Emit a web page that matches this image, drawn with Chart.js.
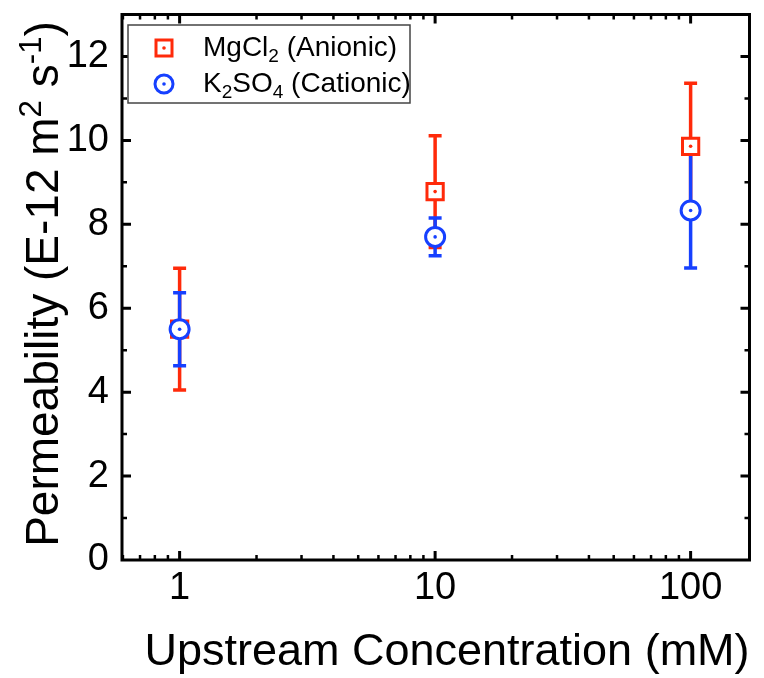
<!DOCTYPE html>
<html>
<head>
<meta charset="utf-8">
<script src="https://cdn.jsdelivr.net/npm/chart.js@4.4.0/dist/chart.umd.min.js"></script>
<style>
    html, body { margin: 0; padding: 0; background: #fff; }
</style>
</head>
<body>
<canvas id="chart" width="764" height="678"></canvas>
<script>
// data
const concentrations = [1, 10, 100];          // mM
const mgcl2Values = [5.5, 8.78, 9.86];
const mgcl2Errors = [1.45, 1.33, 1.5];
const k2so4Values = [5.5, 7.7, 8.33];
const k2so4Errors = [0.87, 0.45, 1.37];
const xTicks = [1, 10, 100];
const yTicks = [0, 2, 4, 6, 8, 10, 12];

const RED = '#ff2a0a';
const BLUE = '#1640ff';
const FONT = "'Liberation Sans', Arial, sans-serif";

function toPoints(values) {
    return concentrations.map((c, i) => ({ x: c, y: values[i] }));
}

// text with sub / superscripts, parts = [{t, sub, sup}]
function richWidth(ctx, parts, size) {
    let w = 0;
    parts.forEach(p => {
        const s = (p.sub || p.sup) ? size * 0.68 : size;
        ctx.font = s + 'px ' + FONT;
        w += ctx.measureText(p.t).width;
    });
    return w;
}

function drawRich(ctx, parts, x, y, size) {
    let cx = x;
    parts.forEach(p => {
        const s = (p.sub || p.sup) ? size * 0.68 : size;
        ctx.font = s + 'px ' + FONT;
        let dy = 0;
        if (p.sub) dy = size * 0.2;
        if (p.sup) dy = -size * 0.38;
        ctx.fillText(p.t, cx, y + dy);
        cx += ctx.measureText(p.t).width;
    });
}

// error bars go under the markers
const errorBarPlugin = {
    id: 'errorBars',
    beforeDatasetsDraw(chart) {
        const ctx = chart.ctx;
        const xs = chart.scales.x, ys = chart.scales.y;
        // red first, then blue on top
        [1, 0].forEach(di => {
            const ds = chart.data.datasets[di];
            ctx.save();
            ctx.strokeStyle = ds.borderColor;
            ctx.lineWidth = 3.5;
            ds.data.forEach((p, i) => {
                const px = xs.getPixelForValue(p.x);
                const top = ys.getPixelForValue(p.y + ds.errors[i]);
                const bot = ys.getPixelForValue(p.y - ds.errors[i]);
                ctx.beginPath();
                ctx.moveTo(px, top);
                ctx.lineTo(px, bot);
                ctx.moveTo(px - 6.5, top);
                ctx.lineTo(px + 6.5, top);
                ctx.moveTo(px - 6.5, bot);
                ctx.lineTo(px + 6.5, bot);
                ctx.stroke();
            });
            ctx.restore();
        });
    },
    afterDatasetDraw(chart, args) {
        // little dot in the middle of each marker
        const ctx = chart.ctx;
        const color = chart.data.datasets[args.index].borderColor;
        ctx.save();
        ctx.fillStyle = color;
        args.meta.data.forEach(pt => {
            ctx.beginPath();
            ctx.arc(pt.x, pt.y, 1.8, 0, Math.PI * 2);
            ctx.fill();
        });
        ctx.restore();
    }
};

// frame, inward ticks on all four sides, titles and legend
const framePlugin = {
    id: 'frame',
    afterDraw(chart) {
        const ctx = chart.ctx;
        const a = chart.chartArea;
        const xs = chart.scales.x, ys = chart.scales.y;
        ctx.save();
        ctx.strokeStyle = '#000';
        ctx.lineCap = 'butt';

        // x ticks (log)
        for (let dec = -1; dec <= 2; dec++) {
            for (let m = 1; m <= 9; m++) {
                const v = m * Math.pow(10, dec);
                if (v <= xs.min || v >= xs.max) continue;
                const px = xs.getPixelForValue(v);
                const len = m === 1 ? 9 : 5;
                ctx.lineWidth = m === 1 ? 3 : 2.5;
                ctx.beginPath();
                ctx.moveTo(px, a.bottom);
                ctx.lineTo(px, a.bottom - len);
                ctx.moveTo(px, a.top);
                ctx.lineTo(px, a.top + len);
                ctx.stroke();
            }
        }
        // y ticks
        for (let v = 1; v < 13; v++) {
            const py = ys.getPixelForValue(v);
            const major = v % 2 === 0;
            const len = major ? 9 : 5;
            ctx.lineWidth = major ? 3 : 2.5;
            ctx.beginPath();
            ctx.moveTo(a.left, py);
            ctx.lineTo(a.left + len, py);
            ctx.moveTo(a.right, py);
            ctx.lineTo(a.right - len, py);
            ctx.stroke();
        }

        ctx.lineWidth = 3;
        ctx.strokeRect(a.left, a.top, a.right - a.left, a.bottom - a.top);

        // axis titles
        ctx.fillStyle = '#000';
        ctx.textBaseline = 'alphabetic';
        ctx.textAlign = 'center';
        ctx.font = '45px ' + FONT;
        ctx.fillText('Upstream Concentration (mM)', 447, 665);

        ctx.textAlign = 'left';
        const yTitle = [
            { t: 'Permeability (E-12 m' }, { t: '2', sup: true },
            { t: ' s' }, { t: '-1', sup: true }, { t: ')' }
        ];
        const tw = richWidth(ctx, yTitle, 46);
        ctx.save();
        ctx.translate(58, 284);
        ctx.rotate(-Math.PI / 2);
        drawRich(ctx, yTitle, -tw / 2, 0, 46);
        ctx.restore();

        // legend
        const lx = 128, ly = 25, lw = 282, lh = 78;
        ctx.fillStyle = '#fff';
        ctx.fillRect(lx, ly, lw, lh);
        ctx.strokeStyle = '#444';
        ctx.lineWidth = 1.5;
        ctx.strokeRect(lx, ly, lw, lh);

        ctx.lineWidth = 3;
        ctx.strokeStyle = RED;
        ctx.strokeRect(164 - 8, 48 - 8, 16, 16);
        ctx.fillStyle = RED;
        ctx.beginPath(); ctx.arc(164, 48, 1.8, 0, Math.PI * 2); ctx.fill();

        ctx.strokeStyle = BLUE;
        ctx.beginPath(); ctx.arc(164, 84, 9, 0, Math.PI * 2); ctx.stroke();
        ctx.fillStyle = BLUE;
        ctx.beginPath(); ctx.arc(164, 84, 1.8, 0, Math.PI * 2); ctx.fill();

        ctx.fillStyle = '#000';
        drawRich(ctx, [{ t: 'MgCl' }, { t: '2', sub: true }, { t: ' (Anionic)' }], 203, 56, 28);
        drawRich(ctx, [{ t: 'K' }, { t: '2', sub: true }, { t: 'SO' }, { t: '4', sub: true }, { t: ' (Cationic)' }], 203, 92, 28);
        ctx.restore();
    }
};

const chart = new Chart(document.getElementById('chart').getContext('2d'), {
    type: 'scatter',
    data: {
        datasets: [
            {
                label: 'K2SO4 (Cationic)',
                data: toPoints(k2so4Values),
                errors: k2so4Errors,
                borderColor: BLUE,
                backgroundColor: '#fff',
                pointStyle: 'circle',
                pointRadius: 9.5,
                pointBorderWidth: 3,
                pointHoverRadius: 9.5
            },
            {
                label: 'MgCl2 (Anionic)',
                data: toPoints(mgcl2Values),
                errors: mgcl2Errors,
                borderColor: RED,
                backgroundColor: '#fff',
                pointStyle: 'rect',
                pointRadius: 11.5,
                pointBorderWidth: 3,
                pointHoverRadius: 11.5
            }
        ]
    },
    options: {
        responsive: false,
        animation: false,
        events: [],
        layout: { padding: { top: 12, right: 12, left: 0, bottom: 0 } },
        plugins: {
            legend: { display: false },
            tooltip: { enabled: false }
        },
        scales: {
            x: {
                type: 'logarithmic',
                min: 0.595,
                max: 170,
                grid: { display: false, drawTicks: false },
                border: { display: false },
                afterBuildTicks: scale => { scale.ticks = xTicks.map(v => ({ value: v })); },
                afterFit: scale => {
                    scale.height = 118;
                    scale.paddingLeft = 0;
                    scale.paddingRight = 0;
                },
                ticks: {
                    autoSkip: false,
                    maxRotation: 0,
                    padding: 6,
                    color: '#000',
                    font: { family: FONT, size: 38 },
                    callback: v => String(v)
                }
            },
            y: {
                min: 0,
                max: 13,
                grid: { display: false, drawTicks: false },
                border: { display: false },
                afterBuildTicks: scale => { scale.ticks = yTicks.map(v => ({ value: v })); },
                afterFit: scale => {
                    scale.width = 122;
                    scale.paddingTop = 0;
                    scale.paddingBottom = 0;
                },
                ticks: {
                    padding: 13,
                    color: '#000',
                    font: { family: FONT, size: 38 },
                    callback: v => String(v)
                }
            }
        }
    },
    plugins: [errorBarPlugin, framePlugin]
});
</script>
</body>
</html>
